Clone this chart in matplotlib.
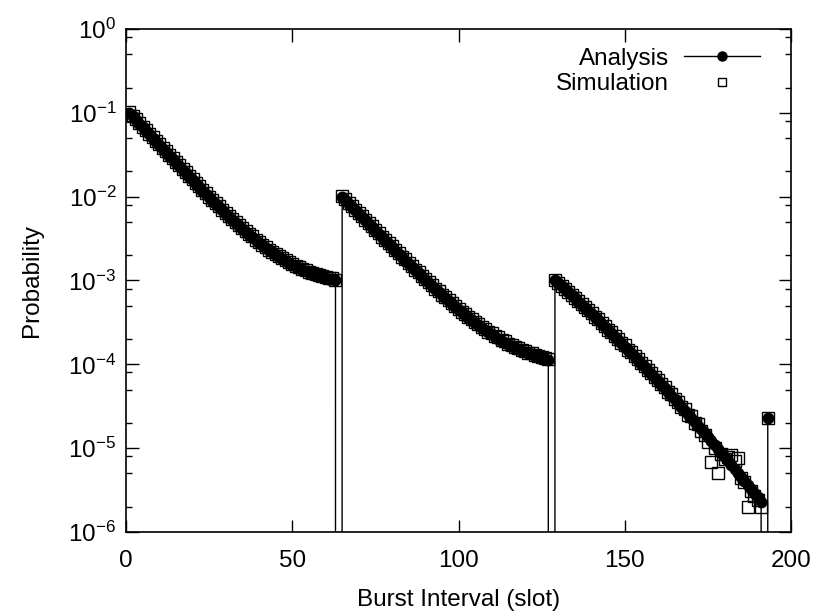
import matplotlib.pyplot as plt
from matplotlib.ticker import LogLocator, NullFormatter, MultipleLocator, FixedLocator

plt.rcParams['font.family'] = ['Liberation Sans', 'DejaVu Sans']
plt.rcParams['mathtext.fontset'] = 'custom'
plt.rcParams['mathtext.rm'] = 'Liberation Sans'
plt.rcParams['mathtext.it'] = 'Liberation Sans:italic'
plt.rcParams['mathtext.bf'] = 'Liberation Sans:bold'
plt.rcParams['axes.unicode_minus'] = False

# analysis, slots 1..63, 65..127, 129..191 (zero at 64, 128, 192), last point 193
ana_seg1 = [0.0998, 0.0904, 0.0819, 0.0742, 0.0672, 0.0609, 0.0552, 0.0501, 0.0454, 0.0412,
            0.0373, 0.0339, 0.0307, 0.0279, 0.0253, 0.0230, 0.0209, 0.0190, 0.0173, 0.0157,
            0.0143, 0.0130, 0.0118, 0.0108, 0.00985, 0.00899, 0.00821, 0.00751, 0.00687, 0.00629,
            0.00577, 0.00530, 0.00487, 0.00449, 0.00414, 0.00382, 0.00353, 0.00327, 0.00304, 0.00283,
            0.00263, 0.00246, 0.00230, 0.00216, 0.00203, 0.00191, 0.00181, 0.00171, 0.00163, 0.00155,
            0.00148, 0.00141, 0.00135, 0.00130, 0.00125, 0.00121, 0.00117, 0.00114, 0.00111, 0.00108,
            0.00105, 0.00103, 0.00100]
ana_seg2 = [9.99e-3, 9.09e-3, 8.28e-3, 7.55e-3, 6.87e-3, 6.26e-3, 5.71e-3, 5.20e-3, 4.74e-3, 4.32e-3,
            3.94e-3, 3.59e-3, 3.28e-3, 2.99e-3, 2.73e-3, 2.49e-3, 2.27e-3, 2.08e-3, 1.90e-3, 1.73e-3,
            1.59e-3, 1.45e-3, 1.33e-3, 1.22e-3, 1.11e-3, 1.02e-3, 9.38e-4, 8.61e-4, 7.91e-4, 7.28e-4,
            6.70e-4, 6.17e-4, 5.69e-4, 5.26e-4, 4.86e-4, 4.50e-4, 4.17e-4, 3.87e-4, 3.60e-4, 3.35e-4,
            3.13e-4, 2.92e-4, 2.74e-4, 2.57e-4, 2.41e-4, 2.27e-4, 2.14e-4, 2.03e-4, 1.92e-4, 1.82e-4,
            1.74e-4, 1.66e-4, 1.58e-4, 1.52e-4, 1.46e-4, 1.40e-4, 1.35e-4, 1.31e-4, 1.27e-4, 1.23e-4,
            1.20e-4, 1.16e-4, 1.14e-4]
ana_seg3 = [1.00e-3, 9.22e-4, 8.50e-4, 7.83e-4, 7.21e-4, 6.64e-4, 6.10e-4, 5.61e-4, 5.16e-4, 4.73e-4,
            4.34e-4, 3.98e-4, 3.65e-4, 3.35e-4, 3.06e-4, 2.80e-4, 2.56e-4, 2.34e-4, 2.14e-4, 1.95e-4,
            1.78e-4, 1.63e-4, 1.48e-4, 1.35e-4, 1.23e-4, 1.12e-4, 1.02e-4, 9.25e-5, 8.40e-5, 7.63e-5,
            6.92e-5, 6.28e-5, 5.69e-5, 5.15e-5, 4.67e-5, 4.22e-5, 3.82e-5, 3.45e-5, 3.12e-5, 2.81e-5,
            2.54e-5, 2.29e-5, 2.06e-5, 1.86e-5, 1.67e-5, 1.51e-5, 1.35e-5, 1.22e-5, 1.09e-5, 9.82e-6,
            8.81e-6, 7.90e-6, 7.08e-6, 6.34e-6, 5.68e-6, 5.08e-6, 4.55e-6, 4.06e-6, 3.63e-6, 3.24e-6,
            2.89e-6, 2.58e-6, 2.30e-6]

# simulation
sim_seg1 = [0.101, 0.0925, 0.0832, 0.0758, 0.0684, 0.0623, 0.0561, 0.0512, 0.0461, 0.0422,
            0.0379, 0.0347, 0.0312, 0.0286, 0.0257, 0.0236, 0.0212, 0.0195, 0.0176, 0.0161,
            0.0145, 0.0133, 0.0120, 0.0111, 0.0100, 0.00921, 0.00834, 0.00770, 0.00698, 0.00645,
            0.00586, 0.00544, 0.00494, 0.00460, 0.00420, 0.00392, 0.00358, 0.00335, 0.00308, 0.00290,
            0.00267, 0.00252, 0.00233, 0.00221, 0.00206, 0.00196, 0.00183, 0.00175, 0.00165, 0.00159,
            0.00150, 0.00145, 0.00137, 0.00133, 0.00127, 0.00124, 0.00119, 0.00117, 0.00113, 0.00111,
            0.00107, 0.00106, 0.00102]
sim_seg2 = [1.01e-2, 9.28e-3, 8.40e-3, 7.72e-3, 6.98e-3, 6.40e-3, 5.80e-3, 5.33e-3, 4.83e-3, 4.43e-3,
            4.01e-3, 3.68e-3, 3.34e-3, 3.07e-3, 2.78e-3, 2.56e-3, 2.31e-3, 2.14e-3, 1.93e-3, 1.78e-3,
            1.62e-3, 1.49e-3, 1.35e-3, 1.25e-3, 1.13e-3, 1.05e-3, 9.52e-4, 8.85e-4, 8.02e-4, 7.49e-4,
            6.80e-4, 6.35e-4, 5.77e-4, 5.41e-4, 4.93e-4, 4.63e-4, 4.23e-4, 3.98e-4, 3.65e-4, 3.45e-4,
            3.17e-4, 3.01e-4, 2.78e-4, 2.65e-4, 2.44e-4, 2.34e-4, 2.17e-4, 2.09e-4, 1.95e-4, 1.88e-4,
            1.76e-4, 1.71e-4, 1.60e-4, 1.57e-4, 1.48e-4, 1.44e-4, 1.37e-4, 1.35e-4, 1.29e-4, 1.27e-4,
            1.22e-4, 1.20e-4, 1.15e-4]
sim_seg3 = [1.02e-3, 9.40e-4, 8.62e-4, 8.00e-4, 7.30e-4, 6.80e-4, 6.18e-4, 5.75e-4, 5.22e-4, 4.85e-4,
            4.40e-4, 4.08e-4, 3.70e-4, 3.43e-4, 3.10e-4, 2.88e-4, 2.58e-4, 2.41e-4, 2.16e-4, 2.02e-4,
            1.80e-4, 1.68e-4, 1.50e-4, 1.40e-4, 1.25e-4, 1.16e-4, 1.04e-4, 9.60e-5, 8.55e-5, 7.90e-5,
            7.05e-5, 6.50e-5, 5.80e-5, 5.35e-5, 4.70e-5, 4.40e-5, 3.85e-5, 3.60e-5, 3.10e-5, 2.95e-5,
            2.50e-5, 2.40e-5, 2.00e-5, 1.95e-5,
            1.60e-5, 1.45e-5, 1.20e-5, 6.8e-6, 1.0e-5, 5.0e-6, 8.5e-6, 7.4e-6, 7.9e-6, 8.3e-6,
            7.0e-6, 7.6e-6, 4.4e-6, 3.9e-6, 2.0e-6, 3.1e-6, 2.7e-6, 2.4e-6, 2.0e-6]

gap = [0.0]
last_point = [2.3e-5]

# tick positions
x_ticks = [0, 50, 100, 150, 200]
y_ticks = [1e-6, 1e-5, 1e-4, 1e-3, 1e-2, 1e-1, 1e0]

analysis = ana_seg1 + gap + ana_seg2 + gap + ana_seg3 + gap + last_point
simulation = sim_seg1 + gap + sim_seg2 + gap + sim_seg3 + gap + last_point
assert len(analysis) == len(simulation) == 193
slots = list(range(1, len(analysis) + 1))

fig = plt.figure(figsize=(8.15, 6.15), dpi=100)
ax = fig.add_axes([0.1546, 0.1350, 0.8160, 0.8179])
ax.set_yscale('log', nonpositive='clip')

ax.plot(slots, analysis, color='black', lw=1, marker='o', ms=7.5, label='Analysis')
ax.plot(slots, simulation, ls='none', marker='s', ms=8.5, mfc='none', mec='black',
        mew=1.0, label='Simulation')

ax.set_xlim(0, 200)
ax.set_ylim(1e-6, 1)
ax.xaxis.set_major_locator(FixedLocator(x_ticks))
ax.yaxis.set_major_locator(FixedLocator(y_ticks))
ax.yaxis.set_minor_locator(LogLocator(base=10, subs=(2, 5, 8), numticks=20))
ax.yaxis.set_minor_formatter(NullFormatter())

ax.tick_params(which='both', direction='in', top=True, right=True, labelsize=17.5)
ax.tick_params(which='major', length=9, width=1)
ax.tick_params(which='minor', length=4, width=1)
ax.tick_params(axis='x', pad=13)
ax.tick_params(axis='y', pad=7)
for s in ax.spines.values():
    s.set_linewidth(1.2)

ax.set_xlabel('Burst Interval (slot)', fontsize=17.5, labelpad=12)
ax.set_ylabel('Probability', fontsize=17.5, labelpad=18)

leg = ax.legend(loc='upper right', bbox_to_anchor=(0.953, 0.963), frameon=False,
                markerfirst=False, handlelength=3.1, handletextpad=0.65,
                labelspacing=0.15, borderpad=0, borderaxespad=0, fontsize=17.5)
leg.legend_handles[0].set_markersize(6.5)
leg.legend_handles[1].set_markersize(6)

fig.savefig('out.png', dpi=100)
